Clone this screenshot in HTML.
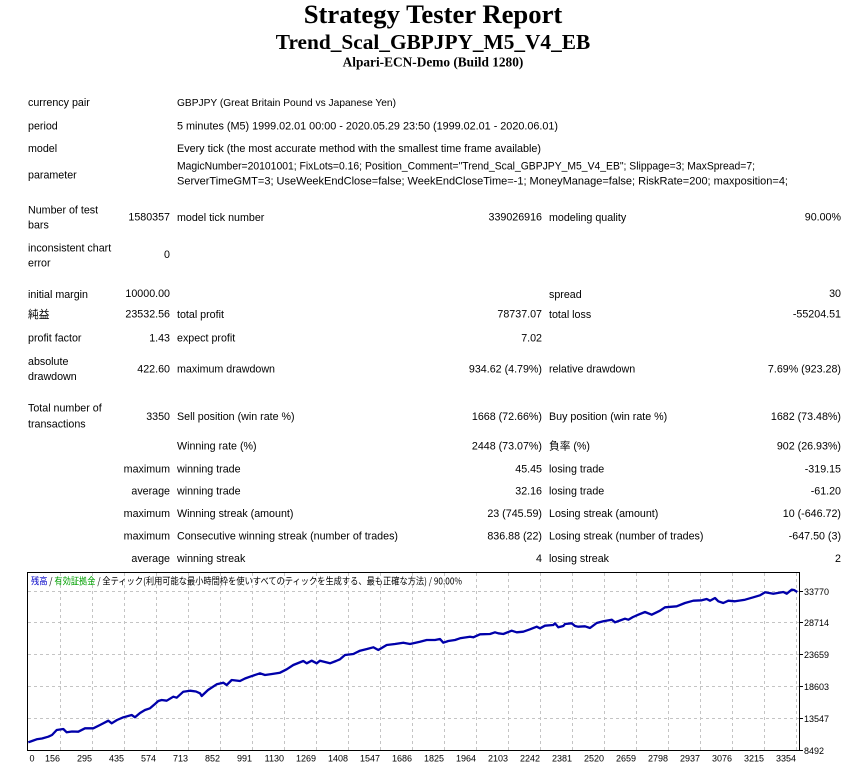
<!DOCTYPE html>
<html>
<head>
<meta charset="utf-8">
<style>
html,body{margin:0;padding:0;background:#fff;}
svg{display:block;}
.t{font-family:"Liberation Sans","Noto Sans CJK JP",sans-serif;font-size:10.7px;fill:#000;}
.r{text-anchor:end;}
.h{font-family:"Liberation Serif","Noto Serif CJK SC",serif;font-weight:bold;text-anchor:middle;fill:#000;}
.ax{font-family:"Liberation Sans",sans-serif;font-size:9px;fill:#000;}
</style>
</head>
<body>
<svg width="865" height="768" viewBox="0 0 865 768" xmlns="http://www.w3.org/2000/svg">
<rect width="865" height="768" fill="#fff"/>
<!-- Header -->
<text class="h" x="433" y="23" font-size="26.67">Strategy Tester Report</text>
<text class="h" x="433" y="49" font-size="21.33">Trend_Scal_GBPJPY_M5_V4_EB</text>
<text class="h" x="433" y="66.5" font-size="13.33">Alpari-ECN-Demo (Build 1280)</text>

<!-- Info rows -->
<text class="t" x="28" y="106">currency pair</text>
<text class="t" x="177" y="106" style="font-size:10.2px">GBPJPY (Great Britain Pound vs Japanese Yen)</text>

<text class="t" x="28" y="129.5">period</text>
<text class="t" x="177" y="129.5" textLength="381" lengthAdjust="spacingAndGlyphs">5 minutes (M5) 1999.02.01 00:00 - 2020.05.29 23:50 (1999.02.01 - 2020.06.01)</text>

<text class="t" x="28" y="152">model</text>
<text class="t" x="177" y="152" textLength="364" lengthAdjust="spacingAndGlyphs">Every tick (the most accurate method with the smallest time frame available)</text>

<text class="t" x="28" y="178.5">parameter</text>
<text class="t" x="177" y="169.5" textLength="578" lengthAdjust="spacingAndGlyphs">MagicNumber=20101001; FixLots=0.16; Position_Comment="Trend_Scal_GBPJPY_M5_V4_EB"; Slippage=3; MaxSpread=7;</text>
<text class="t" x="177" y="184.5" textLength="611" lengthAdjust="spacingAndGlyphs">ServerTimeGMT=3; UseWeekEndClose=false; WeekEndCloseTime=-1; MoneyManage=false; RiskRate=200; maxposition=4;</text>

<text class="t" x="28" y="213.5">Number of test</text>
<text class="t" x="28" y="228.5">bars</text>
<text class="t r" x="170" y="220.5">1580357</text>
<text class="t" x="177" y="221">model tick number</text>
<text class="t r" x="542" y="220.5">339026916</text>
<text class="t" x="549" y="221">modeling quality</text>
<text class="t r" x="841" y="220.5">90.00%</text>

<text class="t" x="28" y="251.5">inconsistent chart</text>
<text class="t" x="28" y="266.5">error</text>
<text class="t r" x="170" y="258">0</text>

<text class="t" x="28" y="298">initial margin</text>
<text class="t r" x="170" y="297">10000.00</text>
<text class="t" x="549" y="298">spread</text>
<text class="t r" x="841" y="297">30</text>

<text class="t" x="28" y="318">純益</text>
<text class="t r" x="170" y="317.5">23532.56</text>
<text class="t" x="177" y="318">total profit</text>
<text class="t r" x="542" y="317.5">78737.07</text>
<text class="t" x="549" y="318">total loss</text>
<text class="t r" x="841" y="317.5">-55204.51</text>

<text class="t" x="28" y="341.5">profit factor</text>
<text class="t r" x="170" y="341.5">1.43</text>
<text class="t" x="177" y="341.5">expect profit</text>
<text class="t r" x="542" y="341.5">7.02</text>

<text class="t" x="28" y="365">absolute</text>
<text class="t" x="28" y="380">drawdown</text>
<text class="t r" x="170" y="372.5">422.60</text>
<text class="t" x="177" y="372.5">maximum drawdown</text>
<text class="t r" x="542" y="372.5">934.62 (4.79%)</text>
<text class="t" x="549" y="372.5">relative drawdown</text>
<text class="t r" x="841" y="372.5">7.69% (923.28)</text>

<text class="t" x="28" y="411.5">Total number of</text>
<text class="t" x="28" y="427.5">transactions</text>
<text class="t r" x="170" y="420">3350</text>
<text class="t" x="177" y="420">Sell position (win rate %)</text>
<text class="t r" x="542" y="420">1668 (72.66%)</text>
<text class="t" x="549" y="420">Buy position (win rate %)</text>
<text class="t r" x="841" y="420">1682 (73.48%)</text>

<text class="t" x="177" y="449.5">Winning rate (%)</text>
<text class="t r" x="542" y="449.5">2448 (73.07%)</text>
<text class="t" x="549" y="449.5">負率 (%)</text>
<text class="t r" x="841" y="449.5">902 (26.93%)</text>

<text class="t r" x="170" y="472.5">maximum</text>
<text class="t" x="177" y="472.5">winning trade</text>
<text class="t r" x="542" y="472.5">45.45</text>
<text class="t" x="549" y="472.5">losing trade</text>
<text class="t r" x="841" y="472.5">-319.15</text>

<text class="t r" x="170" y="494.5">average</text>
<text class="t" x="177" y="494.5">winning trade</text>
<text class="t r" x="542" y="494.5">32.16</text>
<text class="t" x="549" y="494.5">losing trade</text>
<text class="t r" x="841" y="494.5">-61.20</text>

<text class="t r" x="170" y="517">maximum</text>
<text class="t" x="177" y="517">Winning streak (amount)</text>
<text class="t r" x="542" y="517">23 (745.59)</text>
<text class="t" x="549" y="517">Losing streak (amount)</text>
<text class="t r" x="841" y="517">10 (-646.72)</text>

<text class="t r" x="170" y="539.5">maximum</text>
<text class="t" x="177" y="539.5">Consecutive winning streak (number of trades)</text>
<text class="t r" x="542" y="539.5">836.88 (22)</text>
<text class="t" x="549" y="539.5">Losing streak (number of trades)</text>
<text class="t r" x="841" y="539.5">-647.50 (3)</text>

<text class="t r" x="170" y="562">average</text>
<text class="t" x="177" y="562">winning streak</text>
<text class="t r" x="542" y="562">4</text>
<text class="t" x="549" y="562">losing streak</text>
<text class="t r" x="841" y="562">2</text>

<!-- Chart -->
<g stroke="#c4c4c4" stroke-width="1" stroke-dasharray="3,3" fill="none">
  <path d="M60.5 573V750 M92.5 573V750 M124.5 573V750 M156.5 573V750 M188.5 573V750 M220.5 573V750 M252.5 573V750 M284.5 573V750 M316.5 573V750 M348.5 573V750 M380.5 573V750 M412.5 573V750 M444.5 573V750 M476.5 573V750 M508.5 573V750 M540.5 573V750 M572.5 573V750 M604.5 573V750 M636.5 573V750 M668.5 573V750 M700.5 573V750 M732.5 573V750 M764.5 573V750 M796.5 573V750"/>
  <path d="M28 591.5H799 M28 622.5H799 M28 654.5H799 M28 686.5H799 M28 718.5H799"/>
</g>
<rect x="27.5" y="572.5" width="772" height="178" fill="none" stroke="#000" stroke-width="1"/>
<g stroke="#000" stroke-width="1">
  <path d="M799 591.5H803 M799 622.5H803 M799 654.5H803 M799 686.5H803 M799 718.5H803 M799 750.5H803"/>
</g>

<text x="31" y="584.5" font-family="Noto Sans CJK JP, sans-serif" font-size="9.5" textLength="431" lengthAdjust="spacingAndGlyphs"><tspan fill="#0000c8">残高</tspan><tspan fill="#000"> / </tspan><tspan fill="#00a000">有効証拠金</tspan><tspan fill="#000"> / 全ティック(利用可能な最小時間枠を使いすべてのティックを生成する、最も正確な方法) / 90.00%</tspan></text>

<polyline fill="none" stroke="#0000aa" stroke-width="2.3" stroke-linejoin="round" points="28.3,742.3 32,741 36.7,739.3 42,738.5 48.3,736.7 52,735 56.7,730 63.3,729 66.7,732.3 72,731.5 78.3,731.7 85,728.3 93.3,728.3 100,725 108.3,720.7 111.7,723.3 117,720 123.3,717.3 131.7,715 135,717.3 140,713 145,710 150,708.3 155,704 158.3,701 161.7,700 166.7,700.7 173.3,696.7 176.7,697.7 183.3,691.7 190,690.7 196,691.5 200,693.3 201.7,696 208,690 216.7,684.3 223.3,682.7 226.7,685 231.7,680 240,681 245,678.5 250,676.7 260,673.3 265,675 272,674 280,672.7 286.7,669.3 293.3,665 303.3,661 306.7,663.3 311.7,660.7 316.7,663.3 320,660.7 325,662 330,663.3 336,661 340,659.3 345,655 353.3,654 360,650.7 367,649 373.3,647.3 378.3,650 386.7,645 395,644 403.3,642.7 410,644 420,641.7 426.7,640 435,640 440,639 443.3,642.7 448.3,641 455,640 460,638.3 470,636.7 473.3,637.3 480,634.3 490,634 495,632.3 498.3,633.3 503.3,634 511.7,630.7 516.7,632.3 523.3,631.7 530,629.3 536.7,626.7 540,628.3 545,625.7 553.3,625 555,623.3 558.3,627.3 563.3,626 565,624 571.7,623.3 575,626 578.3,626.7 585,626.3 590,628 596.7,623 603.3,621.3 611.7,619.7 615,622.3 620,620.5 625,618.7 628.3,619.7 633,617 638.3,614.7 645,612 651.7,614.7 660,610.7 665,607.3 676.7,606.3 685,603 693.3,600.7 701.7,600.3 706.7,599 710,600.7 715,598 718.3,601.3 723.3,603 728.3,600.7 735,601.3 745,599.7 753.3,597.3 760,595.3 765,592.3 773.3,593.7 783.3,592 786.7,593.7 791.7,589.7 794,590 797.3,592"/>

<!-- Y axis labels -->
<g class="ax">
  <text x="804" y="594.8">33770</text>
  <text x="804" y="625.8">28714</text>
  <text x="804" y="657.8">23659</text>
  <text x="804" y="689.8">18603</text>
  <text x="804" y="721.8">13547</text>
  <text x="804" y="753.8">8492</text>
</g>
<!-- X axis labels -->
<g class="ax" text-anchor="end">
  <text x="34.5" y="761.5">0</text>
  <text x="60" y="761.5">156</text>
  <text x="92" y="761.5">295</text>
  <text x="124" y="761.5">435</text>
  <text x="156" y="761.5">574</text>
  <text x="188" y="761.5">713</text>
  <text x="220" y="761.5">852</text>
  <text x="252" y="761.5">991</text>
  <text x="284" y="761.5">1130</text>
  <text x="316" y="761.5">1269</text>
  <text x="348" y="761.5">1408</text>
  <text x="380" y="761.5">1547</text>
  <text x="412" y="761.5">1686</text>
  <text x="444" y="761.5">1825</text>
  <text x="476" y="761.5">1964</text>
  <text x="508" y="761.5">2103</text>
  <text x="540" y="761.5">2242</text>
  <text x="572" y="761.5">2381</text>
  <text x="604" y="761.5">2520</text>
  <text x="636" y="761.5">2659</text>
  <text x="668" y="761.5">2798</text>
  <text x="700" y="761.5">2937</text>
  <text x="732" y="761.5">3076</text>
  <text x="764" y="761.5">3215</text>
  <text x="796" y="761.5">3354</text>
</g>
</svg>
</body>
</html>
